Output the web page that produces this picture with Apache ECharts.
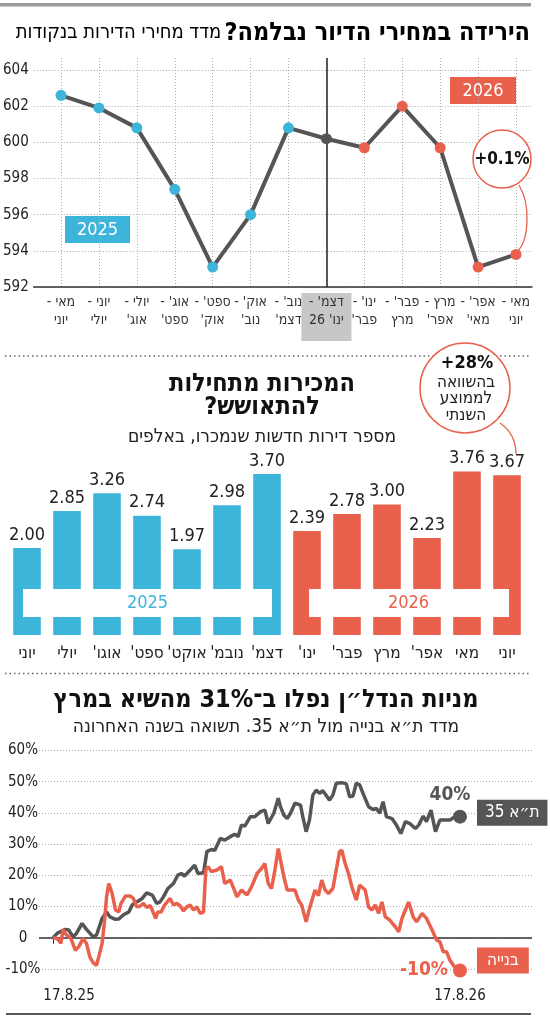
<!DOCTYPE html>
<html lang="he">
<head>
<meta charset="UTF-8">
<title>מדד מחירי הדירות</title>
<script src="https://cdn.jsdelivr.net/npm/echarts@6.0.0/dist/echarts.min.js"></script>
<style>
html, body { margin: 0; padding: 0; background: #fff; }
#chart { width: 550px; height: 1018px; }
</style>
</head>
<body>
<div id="chart"></div>
<script type="text/javascript">
// מדד מחירי הדירות בנקודות
var priceMonths = ["מאי -\nיוני", "יוני -\nיולי", "יולי -\nאוג'", "אוג' -\nספט'", "ספט' -\nאוק'", "אוק' -\nנוב'", "נוב' -\nדצמ'", "דצמ' -\nינו' 26", "ינו' -\nפבר'", "פבר' -\nמרץ", "מרץ -\nאפר'", "אפר' -\nמאי'", "מאי -\nיוני"];
var priceIndex = [602.6, 601.9, 600.8, 597.4, 593.1, 596.0, 600.8, 600.2, 599.7, 602.0, 599.7, 593.1, 593.8];
var priceTicks = [592, 594, 596, 598, 600, 602, 604];

// דירות חדשות שנמכרו, באלפים
var salesMonths = ["יוני", "יולי", "אוגו'", "ספט'", "אוקט'", "נובמ'", "דצמ'", "ינו'", "פבר'", "מרץ", "אפר'", "מאי", "יוני"];
var sales2025 = [2.00, 2.85, 3.26, 2.74, 1.97, 2.98, 3.70];
var sales2026 = [2.39, 2.78, 3.00, 2.23, 3.76, 3.67];

// תשואה בשנה האחרונה (ימים מ-17.8.25)
var ta35Days = [0, 4, 11, 14, 18, 21, 26, 30, 36, 39, 44, 48, 51, 56, 59, 63, 68, 71, 75, 80, 84, 89, 93, 96, 99, 103, 108, 112, 115, 118, 123, 127, 130, 135, 138, 142, 145, 150, 154, 159, 163, 166, 169, 172, 177, 181, 186, 190, 193, 198, 202, 204, 207, 210, 213, 217, 222, 224, 227, 230, 233, 236, 239, 242, 248, 251, 254, 259, 263, 266, 269, 272, 275, 278, 283, 287, 290, 293, 296, 299, 304, 308, 312, 316, 320, 325, 328, 332, 335, 339, 343, 347, 352, 356, 361, 365];
var ta35Vals = [0, 1.5, 2.7, 2.5, 0.3, 1.4, 4.6, 2.7, 0.3, 0.9, 6.2, 8.3, 6.7, 5.9, 6.0, 7.3, 8.3, 10.5, 11.5, 12.6, 14.4, 13.7, 11.0, 11.5, 13.1, 15.8, 17.4, 20.1, 20.6, 19.8, 21.7, 23.3, 20.6, 20.8, 27.6, 28.3, 28.0, 31.8, 31.3, 32.4, 33.2, 32.4, 36.1, 35.8, 38.8, 38.8, 40.4, 40.9, 36.6, 39.9, 44.7, 42.0, 39.3, 38.2, 39.9, 43.1, 42.5, 38.8, 34.0, 37.7, 45.7, 47.3, 46.3, 47.1, 44.1, 45.7, 49.5, 49.7, 49.3, 45.2, 45.4, 49.5, 49.0, 46.3, 42.0, 41.1, 41.4, 39.9, 43.6, 38.8, 38.2, 36.1, 33.4, 37.2, 36.6, 35.0, 36.1, 39.0, 37.2, 40.9, 34.0, 37.7, 37.7, 37.7, 39.0, 38.8];
var bniyaDays = [0, 3, 5, 7, 9, 12, 16, 20, 23, 27, 30, 33, 36, 39, 41, 44, 46, 48, 50, 53, 56, 59, 61, 65, 69, 72, 75, 78, 81, 84, 87, 89, 92, 94, 97, 100, 105, 108, 111, 114, 117, 120, 123, 126, 129, 132, 135, 137, 139, 142, 147, 151, 154, 159, 162, 165, 169, 174, 178, 183, 187, 190, 193, 196, 199, 202, 207, 210, 214, 217, 220, 223, 227, 230, 235, 238, 241, 244, 247, 251, 254, 257, 259, 262, 265, 268, 272, 275, 280, 283, 286, 289, 292, 295, 298, 302, 307, 310, 313, 316, 319, 323, 326, 331, 335, 340, 344, 347, 350, 353, 356, 360, 363, 365];
var bniyaVals = [0, -0.2, -0.7, -1.8, 2.7, 0.9, -0.2, -4.0, -2.9, -0.2, -1.8, -6.1, -8.0, -8.8, -6.1, -1.8, 4.6, 13.1, 17.4, 14.2, 8.9, 8.3, 11.0, 13.4, 13.4, 12.6, 9.9, 10.1, 11.0, 9.7, 10.3, 8.9, 6.2, 8.3, 8.3, 10.5, 12.6, 10.5, 11.0, 10.2, 8.6, 9.9, 10.5, 8.9, 9.9, 7.8, 8.3, 21.7, 22.8, 21.2, 21.7, 22.8, 17.4, 18.5, 15.8, 13.1, 15.3, 13.7, 16.3, 20.6, 22.2, 23.8, 17.4, 15.8, 21.7, 28.6, 19.6, 15.3, 15.3, 15.3, 12.1, 10.5, 5.1, 9.4, 15.3, 13.5, 18.5, 15.3, 14.2, 15.8, 21.7, 27.6, 28.1, 23.8, 20.6, 16.3, 12.1, 16.9, 15.3, 9.9, 8.9, 10.5, 7.8, 11.5, 6.7, 5.7, 3.5, 1.9, 6.2, 8.9, 11.5, 6.7, 5.1, 7.8, 6.2, 2.5, -0.7, -1.3, -4.5, -4.5, -7.2, -9.3, -9.8, -10.5];
var returnTicks = [-10, 0, 10, 20, 30, 40, 50, 60];
var returnDateDays = [0, 365];
var returnDateLabels = ['17.8.25', '17.8.26'];
var endLabels = ['40%', '-10%'];

var FONT = "'Liberation Sans Narrow', 'DejaVu Sans Condensed', sans-serif";
var BLUE = '#3db4d9';
var RED = '#e9604d';
var DARK = '#555555';

// עטיפת שורות עבריות בסימני RLM כדי שיוצגו מימין לשמאל
function rtl(s) {
    return String(s).split('\n').map(function (l) { return '\u200F' + l + '\u200F'; }).join('\n');
}

function pairs(days, vals) {
    return days.map(function (d, i) { return [d, vals[i]]; });
}

var chart = echarts.init(document.getElementById('chart'));

var salesAll = sales2025.concat(sales2026);

var option = {
    animation: false,
    textStyle: { fontFamily: FONT },
    grid: [
        { left: 33, right: 18, top: 70, height: 217 },
        { left: 61, right: 34, top: 58, height: 229 },
        { left: 7, right: 23, top: 461, height: 174 },
        { left: 39, right: 18, top: 750.5, height: 218.5 }
    ],
    xAxis: [
        {
            gridIndex: 0, type: 'value', min: 0, max: 1,
            axisLine: { show: true, onZero: false, lineStyle: { color: '#333', width: 1.5 } },
            axisTick: { show: false }, axisLabel: { show: false }, splitLine: { show: false }
        },
        {
            gridIndex: 1, type: 'category', boundaryGap: false, data: priceMonths,
            axisLine: { show: false }, axisTick: { show: false },
            splitLine: { show: true, lineStyle: { color: '#aaa', type: [1, 2] } },
            axisLabel: {
                interval: 0, margin: 6, fontSize: 14, lineHeight: 18, color: '#333', fontFamily: FONT,
                formatter: function (v, i) {
                    if (i === 7) {
                        return v.split('\n').map(function (l) { return '{hl|' + rtl(l) + '}'; }).join('\n') + '\n{hlb| }';
                    }
                    return rtl(v);
                },
                rich: {
                    hl: { backgroundColor: '#c6c7c9', width: 50, height: 18, lineHeight: 18, align: 'center', fontSize: 14, color: '#333', fontFamily: FONT },
                    hlb: { backgroundColor: '#c6c7c9', width: 50, height: 12, lineHeight: 12, fontSize: 2 }
                }
            }
        },
        {
            gridIndex: 2, type: 'category', data: salesMonths,
            axisLine: { show: false }, axisTick: { show: false },
            axisLabel: { interval: 0, margin: 10, fontSize: 17, color: '#222', fontFamily: FONT, formatter: function (v) { return rtl(v); } }
        },
        {
            gridIndex: 3, type: 'value', min: -12.6, max: 429.6, offset: 6,
            axisLine: { show: false },
            axisTick: { show: true, customValues: [returnDateDays[0]], length: 6, lineStyle: { color: '#333' } },
            splitLine: { show: false },
            axisLabel: {
                customValues: returnDateDays, margin: 14, fontSize: 15, color: '#222', fontFamily: FONT,
                formatter: function (v) {
                    var k = returnDateDays.indexOf(v);
                    return k === 0 ? '{l|' + returnDateLabels[k] + '}' : returnDateLabels[k];
                },
                rich: { l: { padding: [0, 0, 0, 32], fontSize: 15, color: '#222', fontFamily: FONT } }
            }
        }
    ],
    yAxis: [
        {
            gridIndex: 0, type: 'value', min: priceTicks[0], max: priceTicks[priceTicks.length - 1],
            interval: priceTicks[1] - priceTicks[0],
            axisLine: { show: false }, axisTick: { show: false },
            splitLine: { lineStyle: { color: '#aaa', type: [1, 2] } },
            axisLabel: { margin: 5, fontSize: 15, color: '#222', fontFamily: FONT }
        },
        {
            gridIndex: 1, type: 'value', min: priceTicks[0],
            max: priceTicks[0] + 229 / (217 / (priceTicks[priceTicks.length - 1] - priceTicks[0])),
            show: false, splitLine: { show: false }
        },
        { gridIndex: 2, type: 'value', min: 0, max: 4, show: false, splitLine: { show: false } },
        {
            gridIndex: 3, type: 'value', min: returnTicks[0], max: returnTicks[returnTicks.length - 1],
            interval: returnTicks[1] - returnTicks[0],
            axisLine: { show: false }, axisTick: { show: false },
            splitLine: { lineStyle: { color: '#aaa', type: [1, 2] } },
            axisLabel: {
                align: 'center', margin: 16, fontSize: 15, color: '#222', fontFamily: FONT,
                formatter: function (v) { return v === 0 ? '0' : v + '%'; }
            }
        }
    ],
    series: [
        {
            type: 'line', xAxisIndex: 1, yAxisIndex: 1, z: 3,
            data: priceIndex.map(function (v, i) {
                return { value: v, itemStyle: { color: i < 7 ? BLUE : (i === 7 ? DARK : RED) } };
            }),
            symbol: 'circle', symbolSize: 11, showSymbol: true,
            lineStyle: { color: DARK, width: 4 },
            itemStyle: { borderWidth: 0 },
            markLine: {
                z: 1, silent: true, symbol: 'none', label: { show: false },
                lineStyle: { color: '#222', width: 1.5, type: 'solid' },
                data: [{ xAxis: 7 }]
            }
        },
        {
            type: 'bar', xAxisIndex: 2, yAxisIndex: 2, barWidth: '69%',
            data: salesAll.map(function (v, i) {
                return { value: v, itemStyle: { color: i < sales2025.length ? BLUE : RED } };
            }),
            label: {
                show: true, position: 'top', distance: 4, fontSize: 18, color: '#222', fontFamily: FONT,
                formatter: function (p) { return p.value.toFixed(2); }
            }
        },
        {
            type: 'line', name: 'ת״א 35', xAxisIndex: 3, yAxisIndex: 3, z: 3, clip: false,
            data: pairs(ta35Days, ta35Vals), showSymbol: false,
            lineStyle: { color: DARK, width: 3.5 },
            endLabel: {
                show: true, distance: 17, offset: [0, -4], formatter: function () { return rtl('ת״א 35'); },
                backgroundColor: DARK, color: '#fff', padding: [5, 8, 4, 8], fontSize: 17, fontFamily: FONT
            },
            markLine: {
                z: 1, silent: true, symbol: 'none', label: { show: false },
                lineStyle: { color: '#333', width: 1.5, type: 'solid' },
                data: [{ yAxis: 0 }]
            }
        },
        {
            type: 'line', name: 'בנייה', xAxisIndex: 3, yAxisIndex: 3, z: 4, clip: false,
            data: pairs(bniyaDays, bniyaVals), showSymbol: false,
            lineStyle: { color: RED, width: 3.5 },
            endLabel: {
                show: true, distance: 17, offset: [0, -10], formatter: function () { return rtl('בנייה'); },
                backgroundColor: RED, color: '#fff', padding: [5, 10, 4, 10], fontSize: 17, fontFamily: FONT
            }
        },
        {
            type: 'scatter', xAxisIndex: 3, yAxisIndex: 3, z: 5, symbolSize: 14, clip: false,
            itemStyle: { color: DARK, opacity: 1 },
            data: [[ta35Days[ta35Days.length - 1], ta35Vals[ta35Vals.length - 1]]],
            label: { show: true, position: 'top', distance: 5, offset: [-10, 0], formatter: endLabels[0], fontSize: 19, fontWeight: 'bold', color: DARK, fontFamily: FONT }
        },
        {
            type: 'scatter', xAxisIndex: 3, yAxisIndex: 3, z: 5, symbolSize: 14, clip: false,
            itemStyle: { color: RED, opacity: 1 },
            data: [[bniyaDays[bniyaDays.length - 1], bniyaVals[bniyaVals.length - 1]]],
            label: { show: true, position: 'left', distance: 5, formatter: endLabels[1], fontSize: 19, fontWeight: 'bold', color: RED, fontFamily: FONT }
        }
    ],
    graphic: [
        // קווי הפרדה
        { type: 'rect', shape: { x: 0, y: 3, width: 531, height: 3.5 }, style: { fill: '#9a9a9a' } },
        { type: 'line', shape: { x1: 5, y1: 356, x2: 531, y2: 356 }, style: { stroke: '#666', lineWidth: 1.5, lineDash: [1.5, 3] } },
        { type: 'line', shape: { x1: 5, y1: 673.5, x2: 531, y2: 673.5 }, style: { stroke: '#666', lineWidth: 1.5, lineDash: [1.5, 3] } },
        { type: 'line', shape: { x1: 6, y1: 1014, x2: 531, y2: 1014 }, style: { stroke: '#222', lineWidth: 1.5 } },
        // כותרת 1
        {
            type: 'text', x: 530, y: 33,
            style: {
                text: '{r|' + rtl('מדד מחירי הדירות בנקודות') + '} {b|' + rtl('הירידה במחירי הדיור נבלמה?') + '}',
                textAlign: 'right', textVerticalAlign: 'middle',
                rich: {
                    r: { fontSize: 20, color: '#222', fontFamily: FONT },
                    b: { fontSize: 25, fontWeight: 900, color: '#111', fontFamily: FONT }
                }
            }
        },
        // תוויות שנה בגרף 1
        { type: 'rect', shape: { x: 65, y: 216, width: 65, height: 27 }, style: { fill: BLUE } },
        { type: 'text', x: 97.5, y: 230, style: { text: '2025', fill: '#fff', fontSize: 18, fontFamily: FONT, textAlign: 'center', textVerticalAlign: 'middle' } },
        { type: 'rect', shape: { x: 450, y: 77, width: 66, height: 27 }, style: { fill: RED } },
        { type: 'text', x: 483, y: 91, style: { text: '2026', fill: '#fff', fontSize: 18, fontFamily: FONT, textAlign: 'center', textVerticalAlign: 'middle' } },
        // בועת +0.1%
        { type: 'bezierCurve', shape: { x1: 519, y1: 185, cpx1: 531, cpy1: 205, cpx2: 529, cpy2: 240, x2: 517, y2: 252 }, style: { stroke: RED, lineWidth: 1.3, fill: null }, z: 50 },
        { type: 'circle', shape: { cx: 502, cy: 159, r: 29 }, style: { fill: '#fff', stroke: RED, lineWidth: 1.5 }, z: 50 },
        { type: 'text', x: 502, y: 160, z: 51, style: { text: '+0.1%', fill: '#111', fontSize: 17, fontWeight: 'bold', fontFamily: FONT, textAlign: 'center', textVerticalAlign: 'middle' } },
        // כותרת 2
        { type: 'text', x: 262, y: 396, style: { text: rtl('המכירות מתחילות\nלהתאושש?'), fill: '#111', fontSize: 25, lineHeight: 23, fontWeight: 900, fontFamily: FONT, textAlign: 'center', textVerticalAlign: 'middle' } },
        { type: 'text', x: 262, y: 437, style: { text: rtl('מספר דירות חדשות שנמכרו, באלפים'), fill: '#222', fontSize: 19, fontFamily: FONT, textAlign: 'center', textVerticalAlign: 'middle' } },
        // בועת +28%
        { type: 'bezierCurve', shape: { x1: 500, y1: 423, cpx1: 510, cpy1: 430, cpx2: 516, cpy2: 440, x2: 516, y2: 454 }, style: { stroke: RED, lineWidth: 1.3, fill: null }, z: 50 },
        { type: 'circle', shape: { cx: 465, cy: 388, r: 45 }, style: { fill: '#fff', stroke: RED, lineWidth: 1.5 }, z: 50 },
        { type: 'text', x: 467, y: 363, z: 51, style: { text: '+28%', fill: '#111', fontSize: 18, fontWeight: 'bold', fontFamily: FONT, textAlign: 'center', textVerticalAlign: 'middle' } },
        { type: 'text', x: 466, y: 399, z: 51, style: { text: rtl('בהשוואה\nלממוצע\nהשנתי'), fill: '#222', fontSize: 17, lineHeight: 16.5, fontFamily: FONT, textAlign: 'center', textVerticalAlign: 'middle' } },
        // תוויות שנה בגרף 2
        { type: 'rect', z: 60, shape: { x: 23, y: 589, width: 249, height: 28 }, style: { fill: '#fff' } },
        { type: 'text', z: 61, x: 147.5, y: 603.5, style: { text: '2025', fill: BLUE, fontSize: 18, fontFamily: FONT, textAlign: 'center', textVerticalAlign: 'middle' } },
        { type: 'rect', z: 60, shape: { x: 309, y: 589, width: 200, height: 28 }, style: { fill: '#fff' } },
        { type: 'text', z: 61, x: 408.5, y: 603.5, style: { text: '2026', fill: RED, fontSize: 18, fontFamily: FONT, textAlign: 'center', textVerticalAlign: 'middle' } },
        // כותרת 3
        { type: 'text', x: 266, y: 700, style: { text: rtl('מניות הנדל״ן נפלו ב־31% מהשיא במרץ'), fill: '#111', fontSize: 25, fontWeight: 900, fontFamily: FONT, textAlign: 'center', textVerticalAlign: 'middle' } },
        { type: 'text', x: 266, y: 727, style: { text: rtl('מדד ת״א בנייה מול ת״א 35. תשואה בשנה האחרונה'), fill: '#222', fontSize: 19, fontFamily: FONT, textAlign: 'center', textVerticalAlign: 'middle' } }
    ]
};

chart.setOption(option);
</script>
</body>
</html>
